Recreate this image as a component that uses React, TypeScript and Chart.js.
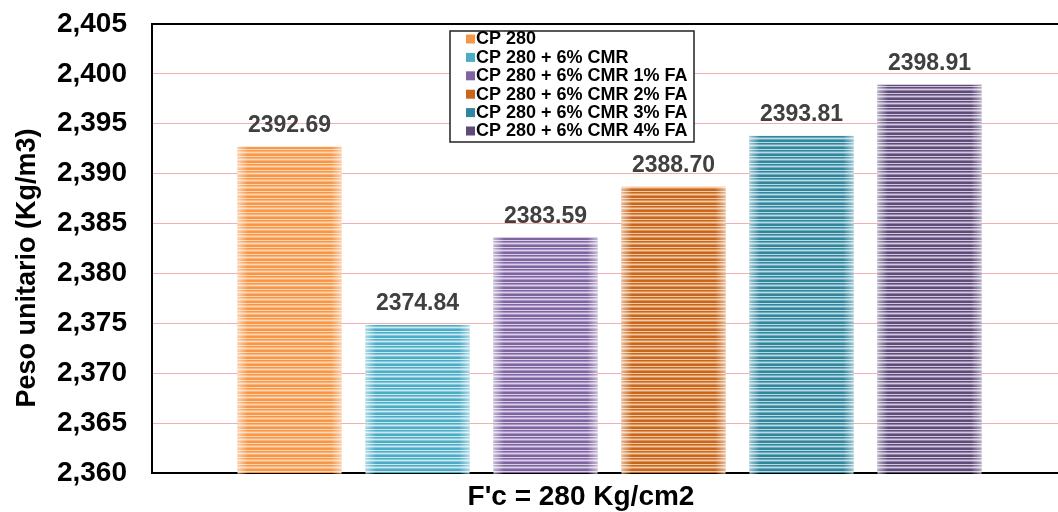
import React, { useEffect, useRef } from "react";
import { Chart, registerables } from "chart.js";
Chart.register(...registerables);

const categories = ["F'c = 280 Kg/cm2"];
const seriesLabels = [
  "CP 280",
  "CP 280 + 6% CMR",
  "CP 280 + 6% CMR 1% FA",
  "CP 280 + 6% CMR 2% FA",
  "CP 280 + 6% CMR 3% FA",
  "CP 280 + 6% CMR 4% FA",
];
const seriesValues = [2392.69, 2374.84, 2383.59, 2388.7, 2393.81, 2398.91];
const baseColors = ["#F79646", "#4BACC6", "#8064A2", "#C8661E", "#31859C", "#5F4B7A"];
const lightColors = ["#FDD6B4", "#CBE8F1", "#DAD0E6", "#F3C9A4", "#B7DAE3", "#D2C9DF"];
const yMin = 2360;
const yMax = 2405;
const yStep = 5;
const xTitle = "F'c = 280 Kg/cm2";
const yTitle = "Peso unitario (Kg/m3)";

const FONT = "'Liberation Sans', Arial, Helvetica, sans-serif";

function hexToRgb(h: string) {
  const n = parseInt(h.slice(1), 16);
  return [(n >> 16) & 255, (n >> 8) & 255, n & 255];
}
function mix(a: string, b: string, t: number) {
  const A = hexToRgb(a);
  const B = hexToRgb(b);
  const r = A.map((v, i) => Math.round(v + (B[i] - v) * t));
  return `rgb(${r[0]},${r[1]},${r[2]})`;
}

function makePattern(base: string, light: string): CanvasPattern | string {
  const c = document.createElement("canvas");
  c.width = 4;
  c.height = 7;
  const g = c.getContext("2d");
  if (!g) return base;
  const B = base;
  const L = light;
  const M = mix(base, light, 0.45);
  const rows = [B, B, L, B, M, L, M];
  rows.forEach((col, i) => {
    g.fillStyle = col;
    g.fillRect(0, i, 4, 1);
  });
  const p = g.createPattern(c, "repeat");
  return p || base;
}

export default function App() {
  const ref = useRef<HTMLCanvasElement | null>(null);

  useEffect(() => {
    const canvas = ref.current;
    if (!canvas) return;

    const datasets = seriesLabels.map((label, i) => ({
      label,
      data: [seriesValues[i]],
      backgroundColor: makePattern(baseColors[i], lightColors[i]) as any,
      borderWidth: 0,
      categoryPercentage: 0.8393,
      barPercentage: 0.8125,
    }));

    const overlayPlugin = {
      id: "overlay",
      afterDatasetsDraw(chart: any) {
        const ctx = chart.ctx as CanvasRenderingContext2D;
        ctx.save();
        chart.data.datasets.forEach((ds: any, i: number) => {
          const meta = chart.getDatasetMeta(i);
          meta.data.forEach((el: any, j: number) => {
            const { x, y, base, width } = el.getProps(["x", "y", "base", "width"], true);
            const left = x - width / 2;
            const grad = ctx.createLinearGradient(left, 0, left + width, 0);
            grad.addColorStop(0, "rgba(255,255,255,0.55)");
            grad.addColorStop(0.1, "rgba(255,255,255,0.0)");
            grad.addColorStop(0.9, "rgba(255,255,255,0.0)");
            grad.addColorStop(1, "rgba(255,255,255,0.55)");
            ctx.fillStyle = grad;
            ctx.fillRect(left, y, width, base - y);
            const v = ds.data[j] as number;
            ctx.fillStyle = "#404040";
            ctx.font = `bold 23px ${FONT}`;
            ctx.textAlign = "center";
            ctx.textBaseline = "alphabetic";
            ctx.fillText(v.toFixed(2), x, y - 15);
          });
        });
        ctx.restore();
      },
      afterDraw(chart: any) {
        const ctx = chart.ctx as CanvasRenderingContext2D;
        ctx.save();
        // Legend box
        const bx = 450, by = 31, bw = 244, bh = 111;
        ctx.fillStyle = "#ffffff";
        ctx.fillRect(bx, by, bw, bh);
        ctx.strokeStyle = "#222";
        ctx.lineWidth = 1.5;
        ctx.strokeRect(bx, by, bw, bh);
        ctx.font = `bold 18px ${FONT}`;
        ctx.textAlign = "left";
        ctx.textBaseline = "middle";
        chart.data.datasets.forEach((ds: any, i: number) => {
          const cy = 38.5 + i * 18.4;
          ctx.fillStyle = baseColors[i];
          ctx.fillRect(466, cy - 4, 9, 9);
          ctx.fillStyle = "#000";
          ctx.fillText(ds.label, 476, cy + 1);
        });
        // Axis titles
        ctx.fillStyle = "#000";
        ctx.font = `bold 28px ${FONT}`;
        ctx.textAlign = "center";
        ctx.textBaseline = "alphabetic";
        ctx.fillText(xTitle, 581, 505);
        ctx.save();
        ctx.translate(35, 268);
        ctx.rotate(-Math.PI / 2);
        ctx.font = `bold 27px ${FONT}`;
        ctx.fillText(yTitle, 0, 0);
        ctx.restore();
        ctx.restore();
      },
    };

    const chart = new Chart(canvas, {
      type: "bar",
      data: { labels: categories, datasets: datasets as any },
      options: {
        responsive: false,
        animation: false,
        devicePixelRatio: 1,
        layout: { padding: { top: 24, bottom: 39, left: 0, right: 3 } },
        plugins: {
          legend: { display: false },
          tooltip: { enabled: false },
          title: { display: false },
        },
        scales: {
          x: {
            grid: { display: false, drawTicks: false },
            ticks: { display: false },
            border: { display: true, color: "#000", width: 2 },
            afterFit: (s: any) => {
              s.height = 0;
              s.paddingLeft = 0;
              s.paddingRight = 0;
            },
          },
          y: {
            min: yMin,
            max: yMax,
            ticks: {
              stepSize: yStep,
              padding: 25,
              color: "#000",
              font: { size: 28, weight: "bold", family: FONT },
              callback: (v: any) => Number(v).toLocaleString("en-US"),
            },
            grid: {
              drawTicks: false,
              color: (c: any) =>
                c.tick && c.tick.value === yMax
                  ? "#000"
                  : c.tick && c.tick.value === yMin
                  ? "rgba(0,0,0,0)"
                  : "#F2B0B0",
              lineWidth: (c: any) => (c.tick && c.tick.value === yMax ? 2 : 1),
            },
            border: { display: true, color: "#000", width: 2 },
            afterFit: (s: any) => {
              s.width = 152;
              s.paddingTop = 0;
              s.paddingBottom = 0;
            },
          },
        },
      },
      plugins: [overlayPlugin],
    });

    return () => chart.destroy();
  }, []);

  return (
    <div
      style={{
        position: "absolute",
        left: 0,
        top: 0,
        width: 1058,
        height: 512,
        overflow: "hidden",
        background: "#fff",
      }}
    >
      <canvas ref={ref} width={1070} height={512} style={{ display: "block" }} />
    </div>
  );
}
